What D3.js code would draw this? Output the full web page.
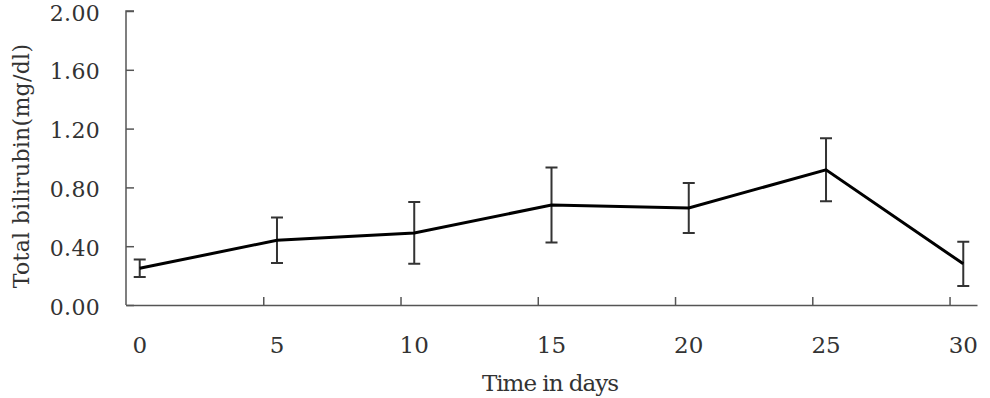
<!DOCTYPE html>
<html lang="en">
  <head>
    <meta charset="utf-8">
    <title>Total bilirubin</title>
    <style>
      body { margin: 0; background: #fff; }
    </style>
  </head>
  <body>
    <svg id="canvas"></svg>
    <script src="https://cdn.jsdelivr.net/npm/d3@7"></script>
    <script>
      const width = 990;
      const height = 398;

      // data
      const days = [0, 5, 10, 15, 20, 25, 30];
      const bilirubin = [0.25, 0.44, 0.49, 0.68, 0.66, 0.92, 0.28];
      const errors = [0.06, 0.155, 0.21, 0.255, 0.17, 0.215, 0.15];
      const yTicks = [0, 0.4, 0.8, 1.2, 1.6, 2.0];

      const fontFamily = "'DejaVu Serif', serif";

      const svg = d3.select("#canvas")
        .attr("width", width)
        .attr("height", height)
        .attr("viewBox", [0, 0, width, height]);

      // half a day of padding each side, like a category axis
      const x = d3.scaleLinear().domain([-0.5, 30.5]).range([126, 977]);
      const y = d3.scaleLinear().domain([0, 2]).range([305, 11]);

      // y axis, ticks pointing inward
      const yAxis = svg.append("g")
        .attr("transform", `translate(${x(-0.5)},0)`)
        .call(d3.axisRight(y).tickValues(yTicks).tickSize(8).tickFormat(""));
      yAxis.select(".domain").attr("d", `M8,${y(2)}H0V${y(0)}`);
      yAxis.selectAll("line, path").attr("stroke", "#555").attr("stroke-width", 1.5);

      svg.append("g").selectAll("text")
        .data(yTicks)
        .join("text")
        .attr("x", 100)
        .attr("y", d => y(d) + 9.5)
        .attr("text-anchor", "end")
        .attr("font-family", fontFamily)
        .attr("font-size", 22)
        .attr("letter-spacing", 0.3)
        .attr("fill", "#333")
        .text(d => d3.format(".2f")(d));

      // x axis: tick marks sit between days, labels on the days
      const xAxis = svg.append("g")
        .attr("transform", `translate(0,${y(0)})`)
        .call(d3.axisTop(x).tickValues(days.slice(1).map(d => d - 0.5)).tickSize(8).tickFormat("").tickSizeOuter(0));
      xAxis.selectAll("line, path").attr("stroke", "#555").attr("stroke-width", 1.5);

      svg.append("g").selectAll("text")
        .data(days)
        .join("text")
        .attr("x", d => x(d))
        .attr("y", 353)
        .attr("text-anchor", "middle")
        .attr("font-family", fontFamily)
        .attr("font-size", 23)
        .attr("fill", "#333")
        .text(d => d);

      // axis titles
      svg.append("text")
        .attr("x", 550)
        .attr("y", 391)
        .attr("text-anchor", "middle")
        .attr("font-family", fontFamily)
        .attr("font-size", 23)
        .attr("letter-spacing", -1)
        .attr("fill", "#333")
        .text("Time in days");

      svg.append("text")
        .attr("transform", "translate(29,166) rotate(-90)")
        .attr("text-anchor", "middle")
        .attr("font-family", fontFamily)
        .attr("font-size", 22)
        .attr("letter-spacing", 0.3)
        .attr("fill", "#333")
        .text("Total bilirubin(mg/dl)");

      // error bars
      const capHalf = 6;
      const bars = svg.append("g")
        .attr("stroke", "#333")
        .attr("stroke-width", 2)
        .attr("fill", "none");
      bars.selectAll("path")
        .data(days)
        .join("path")
        .attr("d", (d, i) => {
          const cx = x(d);
          const top = y(bilirubin[i] + errors[i]);
          const bot = y(bilirubin[i] - errors[i]);
          return `M${cx - capHalf},${top}H${cx + capHalf}M${cx},${top}V${bot}M${cx - capHalf},${bot}H${cx + capHalf}`;
        });

      // mean line
      const line = d3.line()
        .x((d, i) => x(days[i]))
        .y(d => y(d));
      svg.append("path")
        .datum(bilirubin)
        .attr("d", line)
        .attr("fill", "none")
        .attr("stroke", "#000")
        .attr("stroke-width", 3);
    </script>
  </body>
</html>
